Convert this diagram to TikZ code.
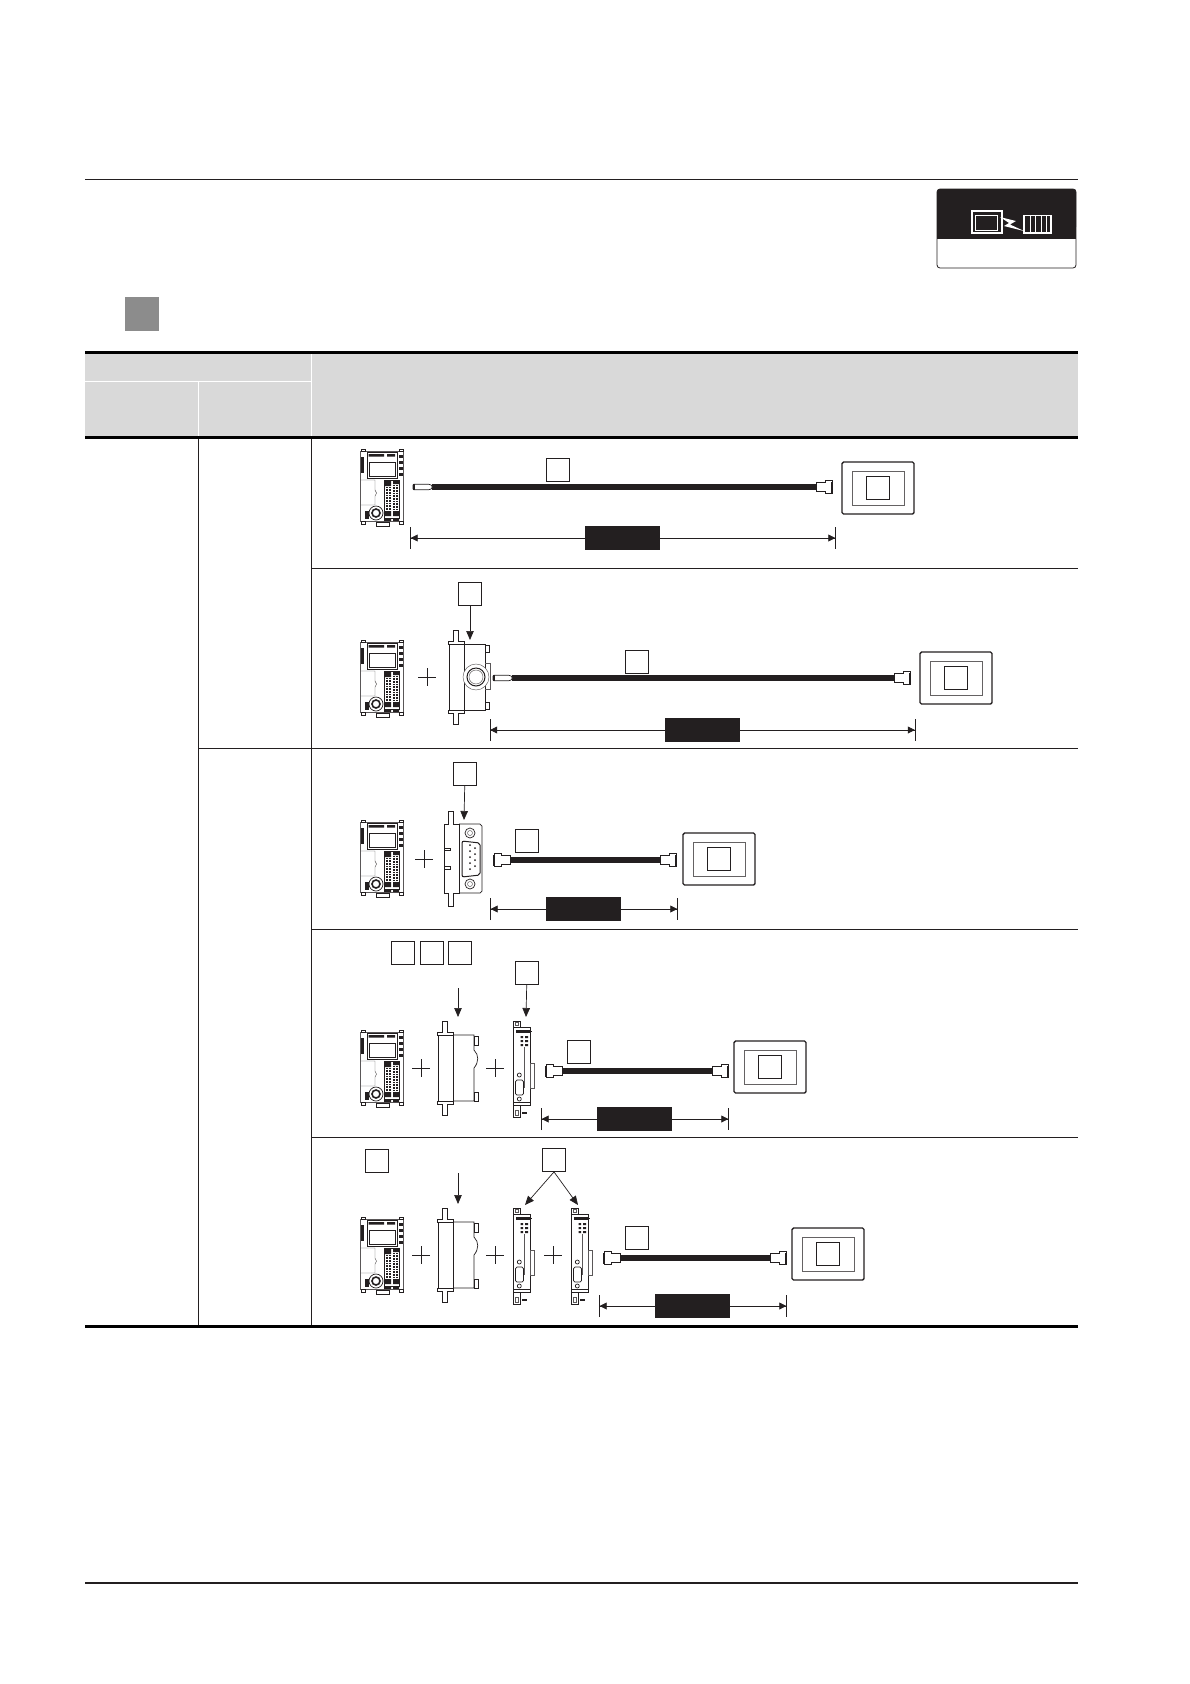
\documentclass[tikz,border=0pt]{standalone}
\usetikzlibrary{arrows.meta}
\definecolor{inkdark}{HTML}{231F20}
\definecolor{headgray}{HTML}{D9D9D9}
\definecolor{markgray}{HTML}{8C8C8C}
\tikzset{
    labelbox/.style={draw=inkdark, fill=white, line width=.8pt, minimum size=23pt, inner sep=0pt},
    tagbox/.style={fill=inkdark, minimum width=75pt, minimum height=24pt, inner sep=0pt},
    dimline/.style={draw=inkdark, line width=.7pt,
        {Bar[width=22pt,line width=.7pt]Triangle[length=7pt,width=7pt]}-{Triangle[length=7pt,width=7pt]Bar[width=22pt,line width=.7pt]}},
    downarrow/.style={draw=inkdark, line width=.7pt, -{Triangle[length=9pt,width=7.5pt]}},
    cablebar/.style={draw=inkdark, line width=5.2pt},
    partline/.style={draw=inkdark, line width=.7pt},
    thinpart/.style={draw=inkdark!75, line width=.45pt},
    rowline/.style={draw=inkdark, line width=.7pt},
    heavyline/.style={draw=black, line width=2.8pt},
    pics/plusmark/.style={code={
        \draw[partline] (-9,0) -- (9,0) (0,-9) -- (0,9);
    }},
    pics/plcunit/.style={code={
        \draw[thinpart] (.7,2.5) rectangle (43.3,72);
        \draw[partline] (1.5,0) rectangle (5,2.5) (39,0) rectangle (43,2.5);
        \draw[partline] (1.5,72) rectangle (5,75) (39,72) rectangle (43,75);
        \draw[partline] (16,73) rectangle (29,77);
        \draw[partline] (7,3) rectangle (37,29);
        \draw[partline] (9,13) rectangle (35,27.5);
        \fill[inkdark] (8.5,5) rectangle (24,7.5) (27,5) rectangle (35,7.5);
        \fill[inkdark] (.7,7.5) rectangle (4,23.5);
        \foreach \ya in {6,12,18,24} {\fill[inkdark] (38.5,\ya) rectangle (42.5,\ya+3);}
        \draw[thinpart] (.7,31) -- (15,31) -- (15,41) -- (16.5,44) -- (15,47) -- (15,56) -- (.7,56);
        \draw[partline] (24,31) rectangle (39.5,69);
        \fill[inkdark] (25,32) rectangle (31,37) (33,32) rectangle (39,35);
        \fill[inkdark] (25,62) rectangle (31,67) (33,62) rectangle (39,67);
        \draw[inkdark, line width=1.5pt, dash pattern=on .8pt off .8pt] (27,38) -- (27,61) (30,38) -- (30,61) (34,36) -- (34,61) (37,36) -- (37,61);
        \draw[inkdark, line width=1.6pt] (16,64) circle (4pt);
        \draw[partline] (16,64) circle (7pt);
        \fill[inkdark] (5,62) rectangle (9,70);
        \fill[inkdark] (24,69) rectangle (31,72) (33,69) rectangle (39,72);
    }},
    pics/hmiscreen/.style={code={
        \draw[draw=inkdark, line width=1.4pt, rounded corners=1.5pt] (0,0) rectangle (72,52);
        \draw[draw=inkdark!70, line width=.7pt] (10,9) rectangle (62,43);
        \node[labelbox] (mark) at (36,26) {};
    }},
    pics/sideplug/.style={code={
        \draw[partline, fill=white, rounded corners=.8pt] (0,-2.8) -- (16,-2.8) -- (19,-1.5) -- (19,1.5) -- (16,2.8) -- (0,2.8) -- cycle;
        \fill[inkdark] (0,-2.8) rectangle (2,2.8);
    }},
    pics/cablehead/.style={code={
        \draw[partline, fill=white] (0,-4.5) -- (9,-4.5) -- (9,-6.5) -- (16,-6.5) -- (16,6.5) -- (9,6.5) -- (9,4.5) -- (0,4.5) -- cycle;
        \draw[inkdark, line width=1.4pt] (16,-5.5) -- (16,5.5);
    }},
    pics/adapterbase/.style={code={
        \draw[partline, fill=white] (4,-14) -- (9,-14) -- (9,-3) -- (15,-3) -- (15,0) -- (0,0) -- (0,66) -- (15,66) -- (15,69) -- (9,69) -- (9,80) -- (4,80) -- (4,69) -- (-1,69) -- (-1,66) -- (0,66) -- (0,0) -- (-1,0) -- (-1,-3) -- (4,-3) -- cycle;
        \draw[partline] (15,0) -- (15,66);
    }},
    pics/blankadapter/.style={code={
        \pic at (0,0) {adapterbase};
        \draw[partline] (15,0) -- (36,0) -- (36,15) .. controls (41,20) and (41,27) .. (36,33) -- (36,66) -- (15,66);
        \draw[partline] (36,1) rectangle (40,10) (36,57) rectangle (40,66);
    }},
    pics/roundadapter/.style={code={
        \pic at (0,0) {adapterbase};
        \draw[partline] (14,0) -- (36,0) -- (36,66) -- (14,66);
        \draw[partline] (36,1) rectangle (40,8) (36,58) rectangle (40,65);
        \draw[thinpart] (36,19) -- (41,19) -- (41,45) -- (36,45);
        \draw[thinpart, fill=white] (27,33) circle (13pt);
        \draw[partline, line width=1pt] (27,33) circle (9pt);
        \draw[thinpart] (27,33) circle (7pt);
    }},
    pics/dsubadapter/.style={code={
        \draw[partline, fill=white] (4,-13) -- (9,-13) -- (9,0) -- (15,0) -- (15,69) -- (9,69) -- (9,82) -- (4,82) -- (4,69) -- (0,69) -- (0,0) -- (4,0) -- cycle;
        \draw[partline] (15,0) -- (36,0) -- (38,2) -- (38,67) -- (36,69) -- (15,69);
        \draw[partline] (0,24) rectangle (6,26.5) (0,42) rectangle (6,45);
        \draw[partline] (26,9) circle (5pt) (26,60) circle (5pt);
        \draw[thinpart] (26,9) circle (2.5pt) (26,60) circle (2.5pt);
        \draw[partline, line width=1pt, rounded corners=2pt] (18,17) -- (36,19) -- (36,51) -- (18,53) -- cycle;
        \foreach \ya/\xa in {21/26,27/26,33/26,39/26,45/26,24/31,30/31,36/31,42/31} {\fill[inkdark] (\xa,\ya) circle (1pt);}
    }},
    pics/boardcard/.style={code={
        \draw[partline, fill=white] (.7,7) rectangle (17,85);
        \draw[partline] (0,1) rectangle (7,7) (0,85) rectangle (7,97);
        \draw[thinpart] (2,2.5) rectangle (5.5,5.5) (2,90) rectangle (5.5,95);
        \draw[thinpart] (17,43) rectangle (21.3,68) (11.5,27) -- (11.5,68);
        \fill[inkdark] (3,10) rectangle (17,12.5);
        \foreach \ya in {16,20,24} {\fill[inkdark] (7.5,\ya) rectangle (10,\ya+2) (12,\ya) rectangle (15,\ya+2);}
        \draw[partline, rounded corners=1.5pt] (2.5,60) rectangle (10.5,75);
        \draw[partline] (6.3,55) circle (2pt) (6.3,79) circle (2pt);
        \draw[partline] (.7,82) -- (17,82) (17,11) -- (19,11);
        \fill[inkdark] (9,92) rectangle (14,94);
    }},
}
\begin{document}
\begin{tikzpicture}[x=1pt,y=-1pt]
    \useasboundingbox (0,0) rectangle (1190,1684);
    % page rules
    \draw[rowline] (85,179.5) -- (1077.5,179.5);
    \draw[rowline, line width=1.4pt] (85,1583) -- (1077.5,1583);
    \fill[markgray] (125,297) rectangle (159,331);
    % mode icon
    \draw[draw=inkdark, line width=.8pt, rounded corners=3pt] (937,189) rectangle (1076,268);
    \fill[inkdark, rounded corners=3pt] (937,189) rectangle (1076,230);
    \fill[inkdark] (937,215) rectangle (1076,239);
    \draw[white, line width=1.1pt] (972,211) rectangle (1002,233);
    \draw[white, line width=.7pt] (975,215) rectangle (997,230);
    \fill[white] (1000,217) -- (1016,221) -- (1010,224.5) -- (1024,231) -- (1004,226) -- (1009,223) -- cycle;
    \draw[white, line width=1.1pt] (1024,215.5) rectangle (1051,233);
    \foreach \xa in {1030,1035.5,1041,1046.5} {\draw[white, line width=1pt] (\xa,215.5) -- (\xa,233);}
    % table
    \fill[headgray] (85,352) rectangle (1077.5,437);
    \draw[white, line width=.8pt] (85,381.5) -- (311,381.5) (198,381.5) -- (198,437) (311,352) -- (311,437);
    \draw[rowline] (198,437) -- (198,1327) (311,437) -- (311,1327);
    \draw[rowline] (311,568) -- (1077.5,568) (198,748) -- (1077.5,748) (311,929) -- (1077.5,929) (311,1137) -- (1077.5,1137);
    \draw[heavyline] (85,352.5) -- (1077.5,352.5) (85,437.5) -- (1077.5,437.5) (85,1326.5) -- (1077.5,1326.5);
    % row 1
    \pic at (360,449) {plcunit};
    \pic (hmia) at (842,462) {hmiscreen};
    \node[labelbox] (cablea) at (558,470) {};
    \coordinate (cableaL) at (432,487);
    \coordinate (cableaR) at (816,487);
    \draw[cablebar] (cableaL) -- (cableaR);
    \pic at (413,487) {sideplug};
    \pic at (cableaR) {cablehead};
    \coordinate (dimaL) at (410,538);
    \coordinate (dimaR) at (836,538);
    \draw[dimline] (dimaL) -- (dimaR);
    \node[tagbox] (taga) at (622.5,538) {};
    % row 2
    \pic at (360,640) {plcunit};
    \pic at (427,677) {plusmark};
    \pic at (449,644) {roundadapter};
    \pic (hmib) at (920,652) {hmiscreen};
    \node[labelbox] (optb) at (470,593.5) {};
    \coordinate (optbE) at (470,640);
    \draw[downarrow] (optb) -- (optbE);
    \node[labelbox] (cableb) at (637,661.5) {};
    \coordinate (cablebL) at (512,678);
    \coordinate (cablebR) at (894,678);
    \draw[cablebar] (cablebL) -- (cablebR);
    \pic at (493,678) {sideplug};
    \pic at (cablebR) {cablehead};
    \coordinate (dimbL) at (489.5,730);
    \coordinate (dimbR) at (915.5,730);
    \draw[dimline] (dimbL) -- (dimbR);
    \node[tagbox] (tagb) at (702.5,730) {};
    % row 3
    \pic at (360,820) {plcunit};
    \pic at (424,859) {plusmark};
    \pic at (444,824) {dsubadapter};
    \pic (hmic) at (683,833) {hmiscreen};
    \node[labelbox] (optc) at (465,773.5) {};
    \coordinate (optcE) at (464,820);
    \draw[downarrow] (optc) -- (optcE);
    \node[labelbox] (cablec) at (527,840.5) {};
    \coordinate (cablecL) at (510,860);
    \coordinate (cablecR) at (660,860);
    \draw[cablebar] (cablecL) -- (cablecR);
    \pic[xscale=-1] at (cablecL) {cablehead};
    \pic at (cablecR) {cablehead};
    \coordinate (dimcL) at (490,909);
    \coordinate (dimcR) at (678,909);
    \draw[dimline] (dimcL) -- (dimcR);
    \node[tagbox] (tagc) at (583.5,909) {};
    % row 4
    \pic at (360,1030) {plcunit};
    \pic at (421,1068) {plusmark};
    \pic at (438,1035) {blankadapter};
    \pic at (495,1068) {plusmark};
    \pic at (513,1020) {boardcard};
    \pic (hmid) at (734,1041) {hmiscreen};
    \node[labelbox] (optda) at (403,952.5) {};
    \node[labelbox] (optdb) at (432,952.5) {};
    \node[labelbox] (optdc) at (460,952.5) {};
    \coordinate (adptdT) at (458,988);
    \coordinate (adptdE) at (458,1017);
    \draw[downarrow] (adptdT) -- (adptdE);
    \node[labelbox] (optdd) at (527,973) {};
    \coordinate (boarddE) at (526,1017);
    \draw[downarrow] (optdd) -- (boarddE);
    \node[labelbox] (cabled) at (579,1051.5) {};
    \coordinate (cabledL) at (562,1071);
    \coordinate (cabledR) at (712,1071);
    \draw[cablebar] (cabledL) -- (cabledR);
    \pic[xscale=-1] at (cabledL) {cablehead};
    \pic at (cabledR) {cablehead};
    \coordinate (dimdL) at (541,1119);
    \coordinate (dimdR) at (729,1119);
    \draw[dimline] (dimdL) -- (dimdR);
    \node[tagbox] (tagd) at (634.5,1119) {};
    % row 5
    \pic at (360,1217) {plcunit};
    \pic at (421,1255) {plusmark};
    \pic at (438,1222) {blankadapter};
    \pic at (495,1255) {plusmark};
    \pic at (513,1207) {boardcard};
    \pic at (553,1255) {plusmark};
    \pic at (571,1207) {boardcard};
    \pic (hmie) at (792,1228) {hmiscreen};
    \node[labelbox] (opte) at (377,1160.5) {};
    \coordinate (adpteT) at (458,1173);
    \coordinate (adpteE) at (458,1204);
    \draw[downarrow] (adpteT) -- (adpteE);
    \node[labelbox] (boarde) at (554,1160) {};
    \coordinate (boardeA) at (525,1205);
    \coordinate (boardeB) at (578,1205);
    \draw[downarrow] (boarde.south) -- (boardeA);
    \draw[downarrow] (boarde.south) -- (boardeB);
    \node[labelbox] (cablee) at (637,1238) {};
    \coordinate (cableeL) at (620,1258);
    \coordinate (cableeR) at (770,1258);
    \draw[cablebar] (cableeL) -- (cableeR);
    \pic[xscale=-1] at (cableeL) {cablehead};
    \pic at (cableeR) {cablehead};
    \coordinate (dimeL) at (599,1306);
    \coordinate (dimeR) at (787,1306);
    \draw[dimline] (dimeL) -- (dimeR);
    \node[tagbox] (tage) at (692.5,1306) {};
\end{tikzpicture}
\end{document}
